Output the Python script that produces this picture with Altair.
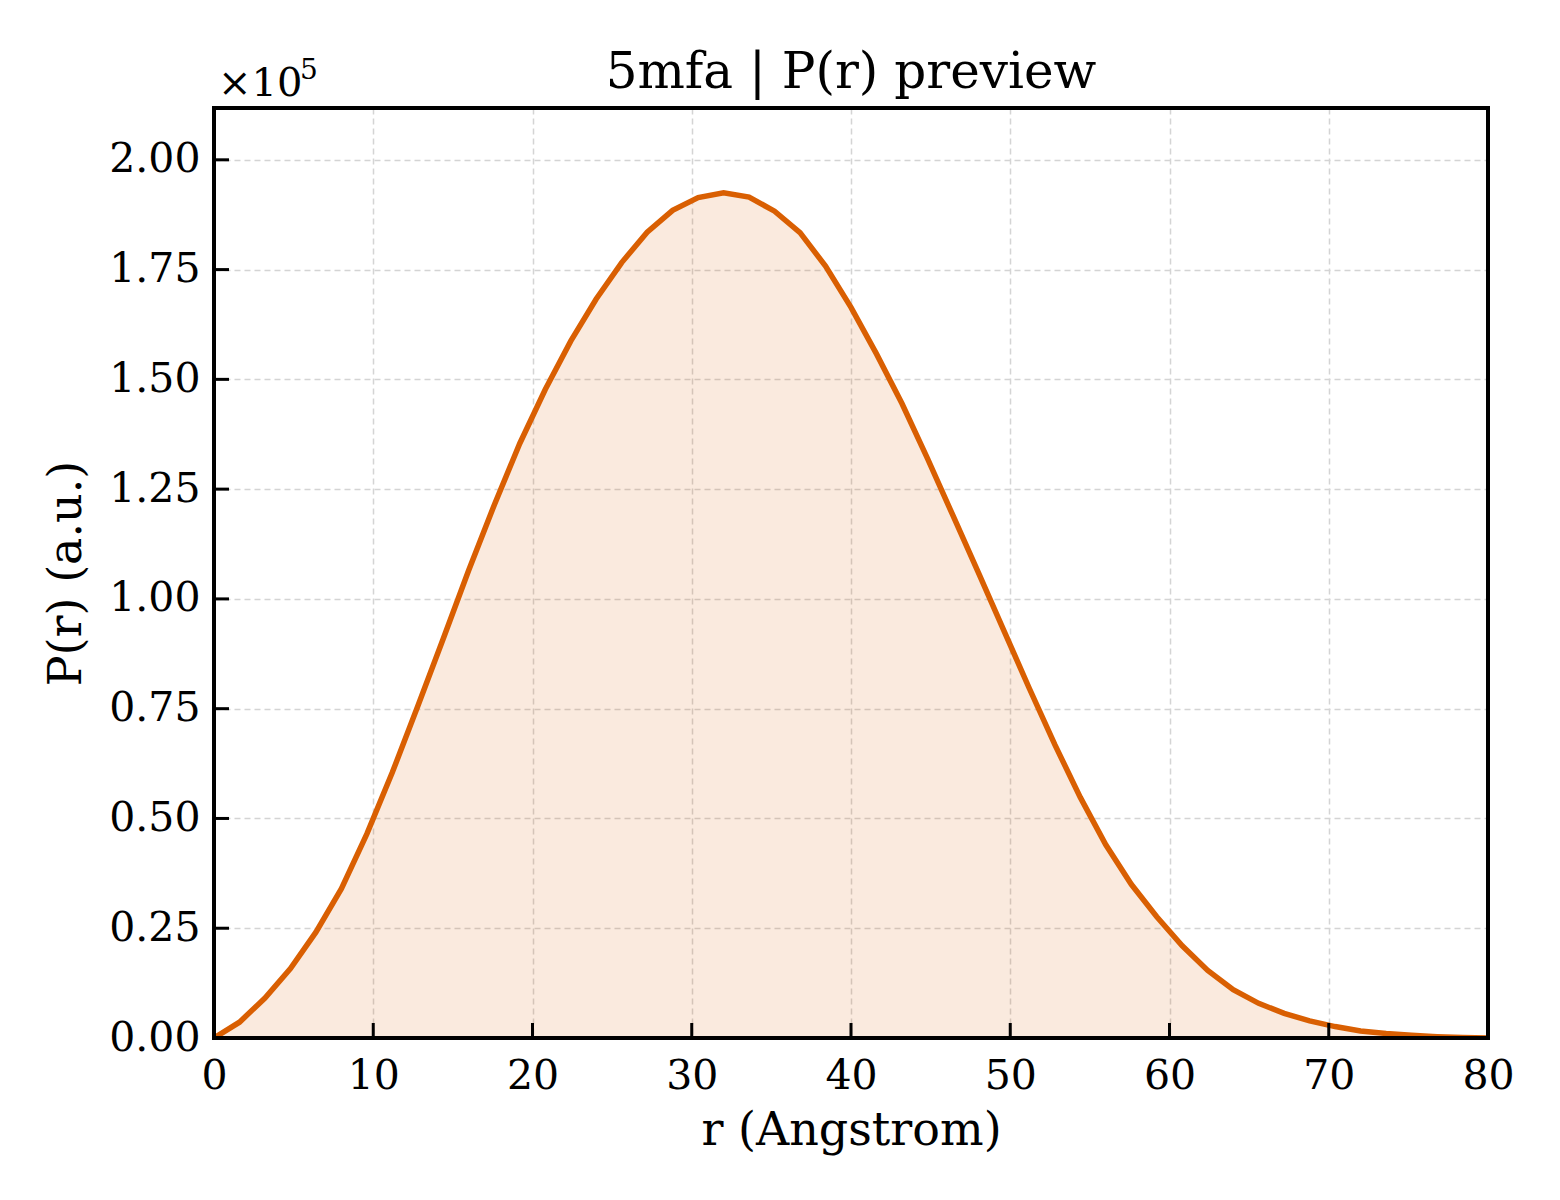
import altair as alt
import pandas as pd

# P(r) distribution (r in Angstrom, P in a.u.)
r_vals = [0, 1.6, 3.2, 4.8, 6.4, 8.0, 9.6, 11.2, 12.8, 14.4, 16.0, 17.6, 19.2, 20.8,
          22.4, 24.0, 25.6, 27.2, 28.8, 30.4, 32.0, 33.6, 35.2, 36.8, 38.4, 40.0,
          41.6, 43.2, 44.8, 46.4, 48.0, 49.6, 51.2, 52.8, 54.4, 56.0, 57.6, 59.2,
          60.8, 62.4, 64.0, 65.6, 67.2, 68.8, 70.4, 72.0, 73.6, 75.2, 76.8, 78.4, 80.0]
p_vals = [0, 3600, 9100, 15800, 24100, 34000, 46500, 60500, 75600, 91000, 106600,
          121400, 135400, 147700, 158700, 168300, 176600, 183500, 188500, 191400,
          192500, 191500, 188300, 183400, 175800, 166400, 155800, 144500, 132000,
          119000, 106000, 92800, 79600, 66800, 54800, 44000, 35000, 27600, 21000,
          15400, 11000, 7900, 5600, 3900, 2600, 1600, 1000, 600, 300, 100, 0]

x_ticks = [0, 10, 20, 30, 40, 50, 60, 70, 80]
y_ticks = [0, 25000, 50000, 75000, 100000, 125000, 150000, 175000, 200000]
title_text = "5mfa | P(r) preview"
offset_base = "×10"
offset_power = "5"

W, H = 1274, 930
LINE = "#d95f02"
FONT = "DejaVu Serif"

df = pd.DataFrame({"r": r_vals, "p": p_vals})
xt = pd.DataFrame({"t": x_ticks})
yt = pd.DataFrame({"t": y_ticks})

xscale = alt.Scale(domain=[0, 80], nice=False, zero=False)
yscale = alt.Scale(domain=[0, 211800], nice=False)

base = alt.Chart(df)

area = base.mark_area(color=LINE, opacity=0.13, clip=True).encode(
    x=alt.X("r:Q", scale=xscale,
            axis=alt.Axis(values=x_ticks, title="r (Angstrom)", ticks=False, domain=False,
                          grid=True, gridDash=[6, 4], gridColor="#d4d4d4", gridWidth=1.5,
                          labelFontSize=41, labelPadding=18, labelFont=FONT, labelColor="black",
                          titleFont=FONT, titleFontSize=46, titleFontWeight="normal",
                          titleColor="black", titlePadding=12, labelFlush=False)),
    y=alt.Y("p:Q", scale=yscale,
            axis=alt.Axis(values=y_ticks, title="P(r) (a.u.)", ticks=False, domain=False,
                          grid=True, gridDash=[6, 4], gridColor="#d4d4d4", gridWidth=1.5,
                          labelExpr="format(datum.value / 100000, '.2f')",
                          labelFontSize=41, labelPadding=14, labelFont=FONT, labelColor="black",
                          titleFont=FONT, titleFontSize=46, titleFontWeight="normal",
                          titleColor="black", titlePadding=18)),
)

line = base.mark_line(color=LINE, strokeWidth=5.5, clip=True).encode(
    x=alt.X("r:Q", scale=xscale),
    y=alt.Y("p:Q", scale=yscale),
)

xtick_marks = alt.Chart(xt).mark_rule(color="black", strokeWidth=3).encode(
    x=alt.X("t:Q", scale=xscale),
    y=alt.value(H),
    y2=alt.value(H - 15),
)
ytick_marks = alt.Chart(yt).mark_rule(color="black", strokeWidth=3).encode(
    y=alt.Y("t:Q", scale=yscale),
    x=alt.value(0),
    x2=alt.value(15),
)

# plot frame drawn on top of grid and fill
frame = alt.Chart(pd.DataFrame({"f": [0]})).mark_rect(
    fill=None, fillOpacity=0, stroke="black", strokeWidth=4
).encode(x=alt.value(0), x2=alt.value(W), y=alt.value(0), y2=alt.value(H))

offset_txt = alt.Chart(pd.DataFrame({"s": [offset_base]})).mark_text(
    font=FONT, fontSize=40, align="left", baseline="alphabetic", color="black"
).encode(text="s:N", x=alt.value(4), y=alt.value(-12))
offset_exp = alt.Chart(pd.DataFrame({"s": [offset_power]})).mark_text(
    font=FONT, fontSize=28, align="left", baseline="alphabetic", color="black"
).encode(text="s:N", x=alt.value(86), y=alt.value(-29))

title_mark = alt.Chart(pd.DataFrame({"s": [title_text]})).mark_text(
    font=FONT, fontSize=50, align="center", baseline="alphabetic", color="black"
).encode(text="s:N", x=alt.value(W / 2), y=alt.value(-20))

chart = alt.layer(area, line, xtick_marks, ytick_marks, frame,
                  offset_txt, offset_exp, title_mark).properties(
    width=W, height=H,
    autosize=alt.AutoSizeParams(type="none"),
    padding={"left": 206, "top": 100, "right": 60, "bottom": 150},
).configure(background="white").configure_view(strokeWidth=0)

chart.save("out.html", embed_options={"renderer": "svg", "actions": False})
